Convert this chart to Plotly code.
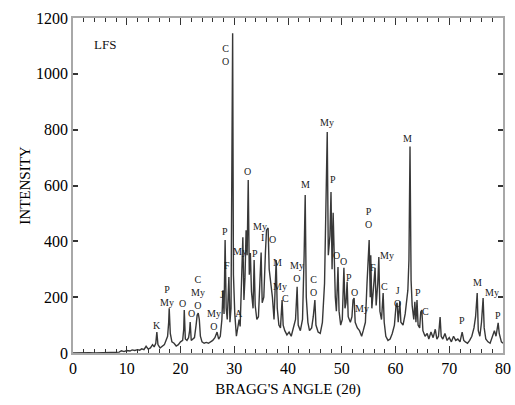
import plotly.graph_objects as go

# XRD pattern (2-theta in degrees, intensity in counts)
two_theta = [0, 1, 2, 3, 4, 5, 6, 7, 8, 8.6, 9.0, 9.5, 10, 10.6, 11, 11.5, 12, 12.4, 12.8, 13.2, 13.6, 14, 14.4, 14.8, 15.1, 15.4, 15.6, 15.8, 16.2, 16.6, 17.0, 17.3, 17.6, 17.8, 17.9, 18.1, 18.4, 18.8, 19.2, 19.6, 20.0, 20.4, 20.6, 20.7, 20.9, 21.2, 21.5, 21.7, 21.8, 22.0, 22.3, 22.6, 22.9, 23.1, 23.3, 23.5, 23.7, 24.0, 24.4, 24.8, 25.2, 25.6, 26.0, 26.4, 26.8, 27.1, 27.4, 27.7, 27.9, 28.1, 28.3, 28.5, 28.7, 29.0, 29.2, 29.4, 29.6, 29.7, 29.85, 30.1, 30.4, 30.7, 30.9, 31.1, 31.3, 31.6, 31.8, 32.0, 32.2, 32.4, 32.6, 32.8, 33.0, 33.2, 33.5, 33.7, 33.9, 34.2, 34.5, 34.8, 35.0, 35.2, 35.5, 35.8, 36.0, 36.3, 36.5, 36.8, 37.1, 37.4, 37.8, 38.0, 38.3, 38.6, 38.9, 39.1, 39.4, 39.8, 40.2, 40.6, 41.0, 41.4, 41.7, 41.9, 42.3, 42.7, 43.0, 43.2, 43.4, 43.7, 44.0, 44.4, 44.7, 45.0, 45.2, 45.6, 46.0, 46.4, 46.8, 47.1, 47.3, 47.5, 47.8, 48.0, 48.2, 48.4, 48.6, 48.8, 49.0, 49.3, 49.5, 49.8, 50.1, 50.4, 50.6, 50.8, 51.0, 51.2, 51.6, 51.9, 52.1, 52.3, 52.5, 52.9, 53.3, 53.7, 54.0, 54.4, 54.7, 54.9, 55.1, 55.3, 55.4, 55.6, 55.9, 56.2, 56.4, 56.7, 56.9, 57.1, 57.4, 57.7, 57.9, 58.2, 58.6, 59.0, 59.4, 59.8, 60.1, 60.3, 60.5, 60.8, 61.0, 61.4, 61.8, 62.1, 62.3, 62.5, 62.7, 62.9, 63.1, 63.4, 63.6, 63.8, 64.0, 64.2, 64.5, 64.7, 64.9, 65.1, 65.5, 65.9, 66.2, 66.6, 67.0, 67.4, 67.7, 68.0, 68.3, 68.5, 68.8, 69.2, 69.6, 70.0, 70.4, 70.8, 71.2, 71.6, 72.0, 72.4, 72.7, 73.0, 73.4, 73.8, 74.2, 74.6, 74.9, 75.2, 75.4, 75.7, 76.0, 76.3, 76.5, 76.8, 77.2, 77.6, 78.0, 78.4, 78.7, 79.1, 79.3, 79.7, 80.0]
intensity = [0, 1, 0, 1, 0, 1, 0, 1, 2, 3, 8, 5, 9, 7, 11, 9, 12, 10, 15, 12, 24, 14, 18, 30, 22, 35, 75, 30, 18, 25, 30, 45, 60, 110, 160, 70, 40, 35, 25, 30, 40, 45, 85, 154, 50, 45, 55, 80, 111, 45, 50, 55, 100, 135, 143, 120, 60, 40, 35, 38, 35, 40, 45, 55, 75, 50, 60, 120, 225, 140, 405, 160, 120, 272, 110, 160, 1020, 1145, 280, 140, 60, 90, 120, 95, 260, 415, 190, 270, 440, 350, 620, 280, 358, 220, 160, 333, 170, 120, 130, 300, 360, 180, 200, 360, 440, 448, 300, 250, 200, 120, 333, 160, 100, 90, 190, 100, 80, 65, 75, 60, 90, 120, 237, 100, 80, 120, 350, 566, 200, 110, 80, 90, 130, 190, 100, 75, 70, 110, 250, 610, 792, 350, 420, 577, 300, 502, 322, 200, 150, 308, 150, 100, 120, 305, 160, 180, 255, 130, 110, 130, 190, 197, 110, 90, 80, 60, 80, 110, 250, 330, 405, 200, 350, 160, 220, 305, 170, 250, 344, 150, 120, 215, 110, 60, 45, 50, 70, 100, 170, 180, 110, 185, 110, 100, 140, 200, 225, 333, 740, 260, 170, 120, 183, 110, 190, 100, 90, 147, 154, 80, 60, 70, 50, 75, 55, 85, 50, 60, 129, 60, 50, 70, 45, 55, 40, 60, 45, 50, 40, 75, 45, 40, 35, 45, 60, 90, 130, 215, 80, 60, 110, 197, 90, 50, 40, 35, 55, 80, 60, 108, 70, 40, 35]

# Phase labels (text, 2-theta, intensity at label centre)
label_text = ["K", "P<br>My", "O", "O", "C<br>My<br>O", "My<br>O", "J", "P", "F", "C<br>O",
              "My", "A", "O", "P", "My", "I", "O", "M", "My", "C", "My<br>O", "M", "C<br>O",
              "My", "P", "O", "O", "P", "O", "My", "P<br>O", "F", "My", "C", "J<br>O", "M",
              "P", "C", "P", "M", "My", "P"]
label_x = [15.6, 17.5, 20.3, 22.0, 23.3, 26.2, 27.7, 28.3, 28.7, 28.3,
           31.1, 30.9, 32.4, 33.9, 34.8, 35.3, 37.2, 38.1, 38.5, 39.6, 41.7, 43.3, 44.7,
           47.3, 48.4, 49.1, 50.4, 51.3, 52.3, 53.8, 54.9, 55.8, 58.4, 57.9, 60.3, 62.3,
           64.2, 65.5, 72.4, 75.3, 78.0, 79.1]
label_y = [97, 204, 179, 143, 215, 118, 208, 434, 315, 1068,
           362, 143, 649, 355, 452, 412, 405, 323, 237, 197, 290, 602, 240,
           824, 620, 351, 326, 272, 215, 158, 484, 308, 348, 240, 200, 770,
           215, 147, 115, 251, 215, 136]

sample_name = "LFS"
x_ticks = [0, 10, 20, 30, 40, 50, 60, 70, 80]
y_ticks = [0, 200, 400, 600, 800, 1000, 1200]

SERIF = "Liberation Serif, Times New Roman, serif"

fig = go.Figure()
fig.add_trace(go.Scatter(
    x=two_theta, y=intensity, mode="lines",
    line=dict(color="#383838", width=1.4),
    showlegend=False, hoverinfo="skip",
))

annotations = []
for t, x, y in zip(label_text, label_x, label_y):
    annotations.append(dict(x=x, y=y, xref="x", yref="y", text=t, showarrow=False,
                            font=dict(family=SERIF, size=10, color="#1a1a1a"),
                            xanchor="center", yanchor="middle"))
annotations.append(dict(x=6.0, y=1104, xref="x", yref="y", text=sample_name, showarrow=False,
                        font=dict(family=SERIF, size=13, color="#111"),
                        xanchor="center", yanchor="middle"))

fig.update_layout(
    width=515, height=405,
    margin=dict(l=73, r=12, t=18, b=52, autoexpand=False),
    paper_bgcolor="white", plot_bgcolor="white",
    font=dict(family=SERIF, color="black"),
    annotations=annotations,
    xaxis=dict(
        range=[0, 80], tickvals=x_ticks, ticktext=[str(v) for v in x_ticks],
        ticks="inside", ticklen=7, tickcolor="#333", tickwidth=1,
        minor=dict(dtick=2, ticks="inside", ticklen=4, tickcolor="#333"),
        showline=True, linecolor="#a8a8a8", linewidth=1.5, mirror="allticks",
        showgrid=False, zeroline=False, automargin=False,
        tickfont=dict(family=SERIF, size=16, color="black"),
        title=dict(text="BRAGG'S ANGLE (2θ)", font=dict(family=SERIF, size=15, color="black"),
                   standoff=8),
    ),
    yaxis=dict(
        range=[0, 1200], tickvals=y_ticks, ticktext=[str(v) for v in y_ticks],
        ticks="inside", ticklen=5, tickcolor="#333", tickwidth=1.5,
        showline=True, linecolor="#a8a8a8", linewidth=1.5, mirror="allticks",
        showgrid=False, zeroline=False, automargin=False,
        tickfont=dict(family=SERIF, size=16, color="black"),
        title=dict(text="INTENSITY", font=dict(family=SERIF, size=15, color="black"),
                   standoff=2),
    ),
)

fig.write_html("out.html",
               config=dict(displayModeBar=False),
               post_script="document.body.style.margin='0';document.body.style.overflow='hidden';")
